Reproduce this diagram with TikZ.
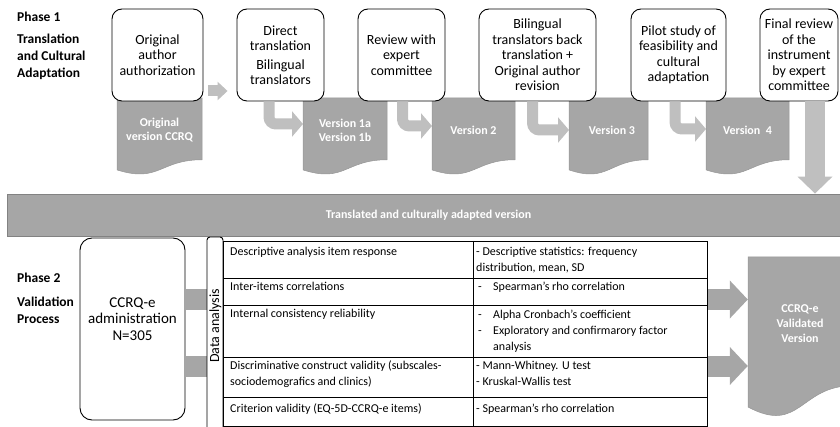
\documentclass[tikz,border=0pt]{standalone}
\usepackage{fontspec}
\setmainfont{Carlito}
\usetikzlibrary{arrows.meta,calc}

\definecolor{docgray}{RGB}{166,166,166}
\definecolor{docedge}{RGB}{150,150,150}
\definecolor{arrowgray}{RGB}{191,191,191}
\definecolor{bandedge}{RGB}{130,130,130}

% Flowchart "document" shape: left x, right x, top y, height
\newcommand\docshape[4]{%
  \filldraw[docfill] (#1,#3) -- (#2,#3) -- (#2,{#3+0.802*#4})
    .. controls ({(#1+#2)/2},{#3+0.802*#4}) and ({(#1+#2)/2},{#3+1.107*#4})
    .. (#1,{#3+0.934*#4}) -- cycle;}

\begin{document}
\begin{tikzpicture}[x=1pt,y=-1pt,
  stepbox/.style={draw=black, line width=0.9pt, fill=white, rounded corners=10pt,
    align=center, inner sep=2pt, minimum height=92pt,
    font=\fontsize{14}{15.5}\selectfont},
  doclabel/.style={text=white, align=center, inner sep=0pt,
    font=\bfseries\fontsize{12}{14}\selectfont},
  docfill/.style={fill=docgray, draw=docedge, line width=0.5pt},
  phase/.style={anchor=west, inner sep=0pt, align=left,
    font=\bfseries\fontsize{13.5}{17}\selectfont},
  bentarrow/.style={draw=arrowgray, line width=11pt, rounded corners=7pt,
    -{Triangle[length=11pt,width=25pt]}},
  smallarrow/.style={draw=arrowgray, line width=11pt,
    -{Triangle[length=10pt,width=18pt]}},
  downarrow/.style={draw=arrowgray, line width=20pt,
    -{Triangle[length=17pt,width=34pt]}},
  bigarrow/.style={draw=docgray, line width=21pt,
    -{Triangle[length=18pt,width=37pt]}},
  band/.style={fill=docgray, draw=bandedge, line width=0.8pt, text=white,
    font=\bfseries\fontsize{12}{14}\selectfont, inner sep=0pt},
  % the base anchor of a multi-line cell is the baseline of its last line
  cell/.style={anchor=base west, inner sep=0pt, align=left,
    font=\fontsize{12}{16}\selectfont},
  grid/.style={draw=black, line width=0.8pt}
]
\useasboundingbox (0,0) rectangle (840,427);
\clip (0,0) rectangle (840,427);

% ---------------- Phase 1 ----------------
\node[phase] (p1) at (17,17) {Phase 1};
\node[phase] (p1t) at (17,57) {Translation\\and Cultural\\Adaptation};

% document shapes under the steps
\docshape{117}{202}{98}{77}
\docshape{303}{387}{98}{77}
\docshape{432}{515}{98}{77}
\docshape{569}{648}{98}{77}
\docshape{706}{789}{98}{77}

\node[doclabel] (d1) at (159.5,130) {Original\\version CCRQ};
\node[doclabel] (d2) at (345,130) {Version 1a\\Version 1b};
\node[doclabel] (d3) at (473.5,130) {Version 2};
\node[doclabel] (d4) at (612,130) {Version 3};
\node[doclabel] (d5) at (747.5,130) {Version\ \ 4};

% step boxes
\node[stepbox, minimum width=91pt] (b1) at (157.5,55) {Original\\author\\authorization};
\node[stepbox, minimum width=87pt] (b2) at (280.5,55) {Direct\\translation\\[3pt]Bilingual\\translators};
\node[stepbox, minimum width=87pt] (b3) at (401.5,55) {Review with\\expert\\committee};
\node[stepbox, minimum width=117pt] (b4) at (537.5,55) {Bilingual\\translators back\\translation +\\Original author\\revision};
\node[stepbox, minimum width=95pt] (b5) at (678.5,55) {Pilot study of\\feasibility and\\cultural\\adaptation};
\node[stepbox, minimum width=78pt] (b6) at (799,55) {Final review\\of the\\instrument\\by expert\\committee};

% arrow tips on the documents
\coordinate (in2) at (303,124);
\coordinate (in3) at (432,126);
\coordinate (in4) at (569,130);
\coordinate (in5) at (706,129);
\coordinate (m1) at (0,91);

\draw[smallarrow] ([xshift=5pt]b1.east |- m1) -- ([xshift=-9pt]b2.west |- m1);
\draw[bentarrow] ([xshift=-11.5pt]b2.south) |- (in2);
\draw[bentarrow] ([xshift=1pt]b3.south) |- (in3);
\draw[bentarrow] ([xshift=-5pt]b4.south) |- (in4);
\draw[bentarrow] ([xshift=-3.5pt]b5.south) |- (in5);

% band between the phases
\node[band, minimum width=843pt, minimum height=42pt] (band) at (428.5,215)
  {Translated and culturally adapted version};

\coordinate (dtop) at ([xshift=16pt]b6.south);
\draw[downarrow] (dtop) -- (dtop |- band.north);

% ---------------- Phase 2 ----------------
\node[phase] (p2) at (17,278) {Phase 2};
\node[phase] (p2t) at (17,310) {Validation\\Process};

% validated version document
\docshape{748}{852}{257}{160.6}
\node[doclabel, minimum width=104pt, font=\bfseries\fontsize{12}{15}\selectfont]
  (vd) at (800,324) {CCRQ-e\\Validated\\Version};

% administration box
\node[stepbox, minimum width=105pt, minimum height=182pt, rounded corners=12pt]
  (ccrq) at (132.5,329) {};
\node[align=center, inner sep=0pt, font=\fontsize{15}{16.5}\selectfont]
  (ccrqtext) at (132.5,319) {CCRQ-e\\administration\\N=305};

% arrows passing behind the analysis table
\coordinate (a1) at (0,299.5);
\coordinate (a2) at (0,366);
\draw[bigarrow] (ccrq.east |- a1) -- (vd.west |- a1);
\draw[bigarrow] (ccrq.east |- a2) -- (vd.west |- a2);

% "Data analysis" bar
\draw[line width=0.9pt, fill=white, rounded corners=3pt]
  (207,440) -- (207,237) -- (223,237) -- (223,440);
\node[rotate=90, inner sep=0pt, font=\fontsize{14}{16}\selectfont]
  (da) at (215.5,326) {Data analysis};

% analysis table
\fill[white] (223,241) rectangle (707,426);
\draw[grid] (223,241) rectangle (707,426);
\draw[grid] (473,241) -- (473,426);
\foreach \yy in {278,305,357,397}
  \draw[grid] (223,\yy) -- (707,\yy);

\node[cell] (l1) at (230,256) {Descriptive analysis item response};
\node[cell] (l2) at (230,291) {Inter-items correlations};
\node[cell] (l3) at (230,318) {Internal consistency reliability};
\node[cell] (l4) at (230,385) {Discriminative construct validity (subscales-\\sociodemografics and clinics)};
\node[cell] (l5) at (230,412) {Criterion validity (EQ-5D-CCRQ-e items)};

\node[cell] (r1) at (476,272) {- Descriptive statistics: frequency\\distribution, mean, SD};
\node[cell] (r2) at (478,291) {\makebox[15pt][l]{-}Spearman’s rho correlation};
\node[cell] (r3) at (478,350) {\makebox[15pt][l]{-}Alpha Cronbach’s coefficient\\
  \makebox[15pt][l]{-}Exploratory and confirmarory factor\\\hspace*{15pt}analysis};
\node[cell] (r4) at (476,385) {- Mann-Whitney. U test\\- Kruskal-Wallis test};
\node[cell] (r5) at (476,412) {- Spearman’s rho correlation};
\end{tikzpicture}
\end{document}
